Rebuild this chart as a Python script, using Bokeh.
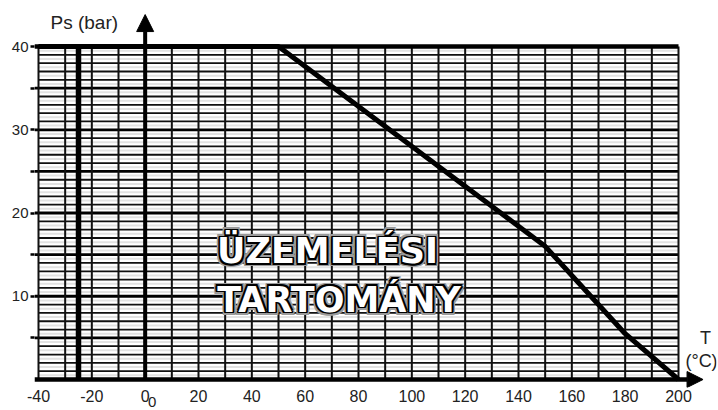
from bokeh.plotting import figure
from bokeh.models import Range1d, FixedTicker, Label, Arrow, NormalHead, LinearAxis
from bokeh.core.properties import value
from bokeh.embed import file_html
from bokeh.resources import INLINE

# ---- data ----
T_curve = [-40, 50, 150, 180, 200]
Ps_curve = [40, 40, 16, 5.5, 0]
T_limit = -25
x_ticks = [-40, -20, 0, 20, 40, 60, 80, 100, 120, 140, 160, 180, 200]
x_tick_labels = {-40: "-40", -20: "-20"}
extra_tick = [2.6]
extra_tick_label = {2.6: "0"}
y_ticks = [5, 10, 15, 20, 25, 30, 35, 40]
y_tick_labels = {5: "", 10: "10", 15: "", 20: "20", 25: "", 30: "30", 35: "", 40: "40"}
T_grid = list(range(-40, 201, 10))
Ps_minor = [v for v in range(1, 40) if v % 5 != 0]
Ps_major = [5, 10, 15, 20, 25, 30, 35]
Ps_half = [v + 0.5 for v in range(0, 40)]
T_min, T_max = -40, 200
Ps_min, Ps_max = 0, 40
region_lines = ["ÜZEMELÉSI", "TARTOMÁNY"]
region_x = [68.4, 72.7]
region_y = [15.4, 9.6]

FONT = "Liberation Sans"

p = figure(width=718, height=410, output_backend="svg", toolbar_location=None,
           x_range=Range1d(-41.5, 214.25), y_range=Range1d(-0.96, 45.05),
           min_border_left=34, min_border_right=2, min_border_top=4, min_border_bottom=23)
p.outline_line_color = None
p.xgrid.visible = False
p.ygrid.visible = False

# axes
xa = p.xaxis[0]
xa.ticker = FixedTicker(ticks=x_ticks)
xa.major_label_overrides = {k: v for k, v in x_tick_labels.items()}
xa.axis_line_color = None
xa.major_tick_out = 0
xa.major_tick_in = 0
xa.minor_tick_line_color = None
xa.major_label_standoff = 2
xa.major_label_text_font = FONT
xa.major_label_text_font_size = "16px"
xa.major_label_text_color = "#222222"

xb = LinearAxis(ticker=FixedTicker(ticks=extra_tick),
                major_label_overrides={k: v for k, v in extra_tick_label.items()},
                axis_line_color=None, major_tick_out=0, major_tick_in=0,
                minor_tick_line_color=None, major_label_standoff=-8,
                major_label_text_font=FONT, major_label_text_font_size="15px",
                major_label_text_color="#222222")
p.add_layout(xb, "below")

ya = p.yaxis[0]
ya.ticker = FixedTicker(ticks=y_ticks)
ya.major_label_overrides = {k: v for k, v in y_tick_labels.items()}
ya.axis_line_color = None
ya.major_tick_out = 4
ya.major_tick_in = 0
ya.major_tick_line_width = 2.5
ya.major_tick_line_color = "black"
ya.minor_tick_line_color = None
ya.major_label_standoff = 2
ya.major_label_text_font = FONT
ya.major_label_text_font_size = "15px"
ya.major_label_text_color = "#222222"

# grid
n = len(Ps_half)
p.segment(x0=[T_min] * n, x1=[T_max] * n, y0=Ps_half, y1=Ps_half,
          line_color="#e2e2e2", line_width=2)
n = len(Ps_minor)
p.segment(x0=[T_min] * n, x1=[T_max] * n, y0=Ps_minor, y1=Ps_minor,
          line_color="#111111", line_width=1.8)
n = len(Ps_major)
p.segment(x0=[-41.5] * n, x1=[T_max] * n, y0=Ps_major, y1=Ps_major,
          line_color="black", line_width=2.8)
n = len(T_grid)
p.segment(x0=T_grid, x1=T_grid, y0=[Ps_min] * n, y1=[Ps_max] * n,
          line_color="#111111", line_width=2)
# top line
p.segment(x0=[-41.5], x1=[T_max], y0=[Ps_max], y1=[Ps_max], line_color="black", line_width=4.5)

# thick limit line
p.segment(x0=[T_limit], x1=[T_limit], y0=[Ps_min], y1=[Ps_max], line_color="black", line_width=5.5)

# curve
p.line(T_curve, Ps_curve, line_color="black", line_width=5, line_join="round")

# axes arrows
p.add_layout(Arrow(end=NormalHead(size=17, fill_color="black", line_color="black", line_width=1),
                   x_start=0, y_start=0, x_end=0, y_end=43.84,
                   line_color="black", line_width=4))
p.add_layout(Arrow(end=NormalHead(size=16, fill_color="black", line_color="black", line_width=1),
                   x_start=-41.5, y_start=0, x_end=209.2, y_end=0,
                   line_color="black", line_width=4.5))

# outlined region text
big_font = value("DejaVu Sans")
offs_grey = [(dx, dy) for dx in (-3, -1.5, 0, 1.5, 3) for dy in (-3, -1.5, 0, 1.5, 3) if abs(dx) == 3 or abs(dy) == 3]
offs_black = [(dx, dy) for dx in (-1.6, 0, 1.6) for dy in (-1.6, 0, 1.6) if not (dx == 0 and dy == 0)]
for color, offs in (("#9a9a9a", offs_grey), ("black", offs_black), ("white", [(0, 0)])):
    for dx, dy in offs:
        p.text(x=region_x, y=region_y, text=region_lines, x_offset=dx, y_offset=dy,
               text_font=big_font, text_font_style="bold", text_font_size="35px",
               text_color=color, text_align="center", text_baseline="middle")

# axis titles
p.add_layout(Label(x=-35.5, y=42.88, text="Ps (bar)", text_font=FONT, text_font_size="19px",
                   text_color="#222222", text_align="left", text_baseline="middle"))
p.add_layout(Label(x=210.1, y=5.04, text="T", text_font=FONT, text_font_size="18px",
                   text_color="#222222", text_align="center", text_baseline="middle"))
p.add_layout(Label(x=202.6, y=2.28, text="(°C)", text_font=FONT, text_font_size="18px",
                   text_color="#222222", text_align="left", text_baseline="middle"))

open("out.html", "w").write(file_html(p, INLINE))
